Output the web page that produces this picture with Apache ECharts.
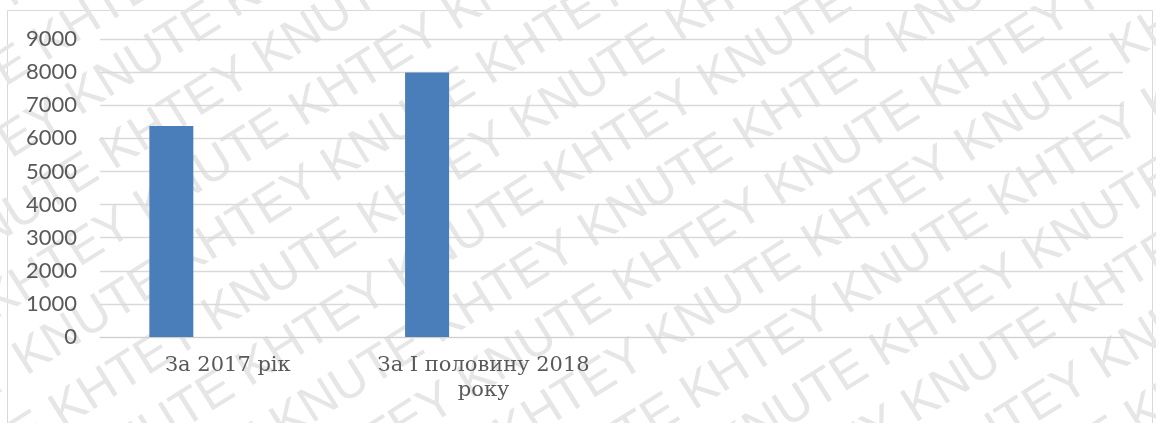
<!DOCTYPE html>
<html lang="uk">
<head>
    <meta charset="UTF-8">
    <title>chart</title>
    <style>
        html, body { margin: 0; padding: 0; background: #fff; }
    </style>
    <script src="https://cdn.jsdelivr.net/npm/echarts@6/dist/echarts.min.js"></script>
</head>
<body>
<div id="main" style="width:1156px;height:423px"></div>
<script>
    var categories = ['За 2017 рік', 'За І половину 2018\nроку', '', ''];
    var values = [6370, 7990, null, null];
    var emptySeries = [null, null, null, null];
    var yTicks = { min: 0, max: 9000, step: 1000 };

    var myChart = echarts.init(document.getElementById('main'));

    // watermark of the source document, drawn as tilted text rows behind everything
    var markRows = [];
    for (var i = -11; i <= 11; i++) {
        var line = (i % 2 === 0) ? '' : 'KHTEY ';
        for (var k = 0; k < 12; k++) line += 'KNUTE KHTEY ';
        markRows.push({
            type: 'text',
            x: -1100,
            y: i * 64,
            style: {
                text: line,
                fill: '#e6e6e6',
                font: '50px "Liberation Sans", Arial, sans-serif'
            },
            silent: true
        });
    }

    var option = {
        animation: false,
        graphic: [
            {
                type: 'group',
                x: 578,
                y: 211,
                rotation: 0.56,
                z: -10,
                children: markRows
            },
            {
                type: 'rect',
                shape: { x: 7.5, y: 10.5, width: 1145, height: 430 },
                style: { fill: 'none', stroke: '#d9d9d9', lineWidth: 1 },
                z: -5,
                silent: true
            }
        ],
        grid: { left: 100, right: 33, top: 39, bottom: 86 },
        xAxis: {
            type: 'category',
            data: categories,
            axisLine: { lineStyle: { color: '#d0d0d0', width: 1 } },
            axisTick: { show: false },
            axisLabel: {
                interval: 0,
                color: '#595959',
                fontFamily: '"DejaVu Serif", serif',
                fontSize: 21,
                lineHeight: 25,
                margin: 16
            }
        },
        yAxis: {
            type: 'value',
            min: yTicks.min,
            max: yTicks.max,
            interval: yTicks.step,
            axisLine: { show: false },
            axisTick: { show: false },
            splitLine: { lineStyle: { color: '#d9d9d9', width: 1.3 } },
            axisLabel: {
                color: '#595959',
                fontFamily: 'Lato, sans-serif',
                fontSize: 22,
                margin: 23,
                formatter: function (v) { return String(v); }
            }
        },
        series: [
            {
                type: 'bar',
                data: values,
                barWidth: 44,
                barGap: '157%',
                itemStyle: { color: '#4a7ebb' }
            },
            {
                type: 'bar',
                data: emptySeries,
                barWidth: 44,
                itemStyle: { color: '#c0504d' }
            }
        ]
    };
    myChart.setOption(option);
</script>
</body>
</html>
